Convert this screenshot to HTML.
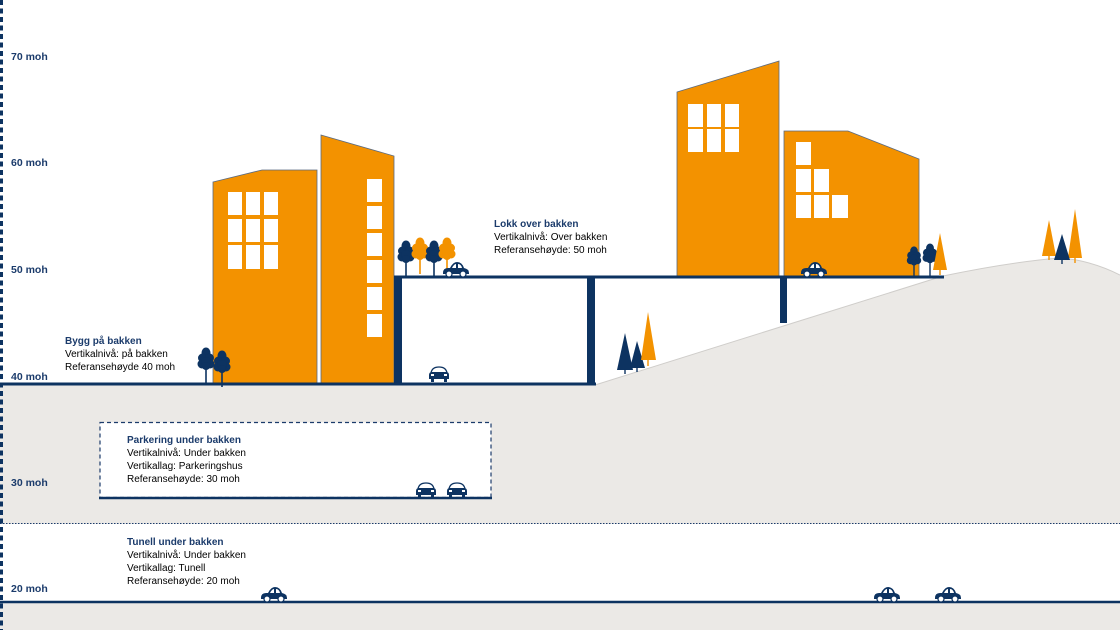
<!DOCTYPE html>
<html><head><meta charset="utf-8"><style>
html,body{margin:0;padding:0;background:#fff}
svg{display:block}
text{font-family:"Liberation Sans",sans-serif;font-size:10px;fill:#000}
.b{font-weight:bold;fill:#1b3b6b}
.ax{font-weight:bold;fill:#1b3b6b;font-size:10.5px}
</style></head><body>
<svg width="1120" height="630" viewBox="0 0 1120 630" xmlns="http://www.w3.org/2000/svg">
<defs>
<g id="carS">
 <path d="M0,11 Q0,6 5,6 L7,6 Q10,0 14,0 Q19,0 21,6 Q26,7 26,11 L26,12 L0,12 Z" fill="#0d3361"/>
 <path d="M9,6 Q11,2 13,2 L13,6 Z M15,2 Q18,2 19,6 L15,6 Z" fill="#fff"/>
 <circle cx="6" cy="12" r="3" fill="#fff" stroke="#0d3361" stroke-width="1.2"/>
 <circle cx="20" cy="12" r="3" fill="#fff" stroke="#0d3361" stroke-width="1.2"/>
</g>
<g id="carF">
 <path d="M2,6 Q3,0 10,0 Q17,0 18,6 Z" fill="#fff" stroke="#0d3361" stroke-width="1.3"/>
 <path d="M0,8 Q0,5 3,5 L17,5 Q20,5 20,8 L20,12 L0,12 Z" fill="#0d3361"/>
 <rect x="2" y="11" width="3" height="4" fill="#0d3361"/>
 <rect x="15" y="11" width="3" height="4" fill="#0d3361"/>
 <rect x="2" y="7" width="3" height="2" fill="#fff"/>
 <rect x="15" y="7" width="3" height="2" fill="#fff"/>
</g>
<g id="tree">
 <rect x="-0.8" y="12" width="1.6" height="25"/>
 <ellipse cx="0" cy="6" rx="4.5" ry="5.5"/>
 <circle cx="-3.5" cy="11" r="4.5"/><circle cx="3.5" cy="11" r="4.5"/>
 <circle cx="-4" cy="17" r="4.5"/><circle cx="4" cy="17" r="4.5"/>
 <circle cx="0" cy="15" r="5"/><circle cx="0" cy="19" r="4"/>
</g>
</defs>

<rect x="0" y="385" width="1120" height="139" fill="#ebe9e6"/>
<rect x="0" y="602" width="1120" height="28" fill="#ebe9e6"/>
<line x1="0" y1="523.5" x2="1120" y2="523.5" stroke="#1b3b6b" stroke-width="1" stroke-dasharray="1.5,1.5"/>
<path d="M595,385 L943,276 Q1010,262 1060,258 Q1090,260 1120,275 L1120,386 Z" fill="#ebe9e6"/>
<path d="M595,385 L943,276 Q1010,262 1060,258 Q1090,260 1120,275" fill="none" stroke="#cfcdca" stroke-width="1"/>

<rect x="100" y="422.5" width="391" height="75" fill="#fff" stroke="#1b3b6b" stroke-width="1.2" stroke-dasharray="4,3"/>
<line x1="99" y1="498" x2="492" y2="498" stroke="#0d3361" stroke-width="2.5"/>

<line x1="0" y1="602" x2="1120" y2="602" stroke="#0d3361" stroke-width="2.5"/>

<path d="M213,182 L262,170 L317,170 L317,384 L213,384 Z" fill="#f39200" stroke="#5a6a80" stroke-width="0.8"/>
<path d="M321,135 L394,156 L394,384 L321,384 Z" fill="#f39200" stroke="#5a6a80" stroke-width="0.8"/>
<g fill="#fff">
 <rect x="228" y="192" width="14" height="23"/><rect x="246" y="192" width="14" height="23"/><rect x="264" y="192" width="14" height="23"/>
 <rect x="228" y="219" width="14" height="23"/><rect x="246" y="219" width="14" height="23"/><rect x="264" y="219" width="14" height="23"/>
 <rect x="228" y="245" width="14" height="24"/><rect x="246" y="245" width="14" height="24"/><rect x="264" y="245" width="14" height="24"/>
 <rect x="367" y="179" width="15" height="23"/><rect x="367" y="206" width="15" height="23"/><rect x="367" y="233" width="15" height="23"/>
 <rect x="367" y="260" width="15" height="23"/><rect x="367" y="287" width="15" height="23"/><rect x="367" y="314" width="15" height="23"/>
</g>

<path d="M677,92 L779,61 L779,277 L677,277 Z" fill="#f39200" stroke="#5a6a80" stroke-width="0.8"/>
<path d="M784,131 L848,131 L919,159 L919,277 L784,277 Z" fill="#f39200" stroke="#5a6a80" stroke-width="0.8"/>
<g fill="#fff">
 <rect x="688" y="104" width="15" height="23"/><rect x="707" y="104" width="14" height="23"/><rect x="725" y="104" width="14" height="23"/>
 <rect x="688" y="129" width="15" height="23"/><rect x="707" y="129" width="14" height="23"/><rect x="725" y="129" width="14" height="23"/>
 <rect x="796" y="142" width="15" height="23"/>
 <rect x="796" y="169" width="15" height="23"/><rect x="814" y="169" width="15" height="23"/>
 <rect x="796" y="195" width="15" height="23"/><rect x="814" y="195" width="15" height="23"/><rect x="832" y="195" width="16" height="23"/>
</g>

<line x1="0" y1="384" x2="596" y2="384" stroke="#0d3361" stroke-width="3"/>
<line x1="394" y1="277" x2="944" y2="277" stroke="#0d3361" stroke-width="3"/>
<rect x="394" y="277" width="8" height="107" fill="#0d3361"/>
<rect x="587" y="277" width="8" height="107" fill="#0d3361"/>
<rect x="780" y="277" width="7" height="46" fill="#0d3361"/>

<use href="#tree" x="406" y="240" fill="#0d3361"/>
<use href="#tree" x="420" y="237" fill="#f39200"/>
<use href="#tree" x="434" y="240" fill="#0d3361"/>
<use href="#tree" x="447" y="237" fill="#f39200"/>
<use href="#tree" x="206" y="347" fill="#0d3361"/>
<use href="#tree" x="222" y="350" fill="#0d3361"/>
<use href="#tree" x="914" y="246" transform="translate(914,246) scale(0.85) translate(-914,-246)" fill="#0d3361"/>
<use href="#tree" x="930" y="243" transform="translate(930,243) scale(0.88) translate(-930,-243)" fill="#0d3361"/>

<g>
 <path d="M625,333 L633,370 L617,370 Z" fill="#0d3361"/><rect x="624.3" y="369" width="1.4" height="5" fill="#0d3361"/>
 <path d="M637,341 L645,368 L630,368 Z" fill="#0d3361"/><rect x="636.3" y="367" width="1.4" height="5" fill="#0d3361"/>
 <path d="M648,312 L656,360 L641,360 Z" fill="#f39200"/><rect x="647.3" y="359" width="1.4" height="7" fill="#f39200"/>
 <path d="M940,233 L947,270 L933,270 Z" fill="#f39200"/><rect x="939.3" y="269" width="1.4" height="6" fill="#f39200"/>
 <path d="M1049,220 L1056,256 L1042,256 Z" fill="#f39200"/><rect x="1048.3" y="255" width="1.4" height="5" fill="#f39200"/>
 <path d="M1075,209 L1082,258 L1068,258 Z" fill="#f39200"/><rect x="1074.3" y="257" width="1.4" height="6" fill="#f39200"/>
 <path d="M1062,234 L1070,260 L1054,260 Z" fill="#0d3361"/><rect x="1061.3" y="259" width="1.4" height="5" fill="#0d3361"/>
</g>

<use href="#carS" x="443" y="262"/>
<use href="#carS" x="801" y="262"/>
<use href="#carS" x="261" y="587"/>
<use href="#carS" x="874" y="587"/>
<use href="#carS" x="935" y="587"/>
<use href="#carF" x="429" y="367"/>
<use href="#carF" x="416" y="483"/>
<use href="#carF" x="447" y="483"/>

<line x1="1.5" y1="0" x2="1.5" y2="630" stroke="#0d3361" stroke-width="3" stroke-dasharray="5,3.5"/>
<text class="ax" x="11" y="60">70 moh</text>
<text class="ax" x="11" y="166">60 moh</text>
<text class="ax" x="11" y="273">50 moh</text>
<text class="ax" x="11" y="380">40 moh</text>
<text class="ax" x="11" y="486">30 moh</text>
<text class="ax" x="11" y="592">20 moh</text>

<text class="b" x="65" y="344">Bygg på bakken</text>
<text x="65" y="357">Vertikalnivå: på bakken</text>
<text x="65" y="370">Referansehøyde 40 moh</text>

<text class="b" x="494" y="227">Lokk over bakken</text>
<text x="494" y="240">Vertikalnivå: Over bakken</text>
<text x="494" y="253">Referansehøyde: 50 moh</text>

<text class="b" x="127" y="443">Parkering under bakken</text>
<text x="127" y="456">Vertikalnivå: Under bakken</text>
<text x="127" y="469">Vertikallag: Parkeringshus</text>
<text x="127" y="482">Referansehøyde: 30 moh</text>

<text class="b" x="127" y="545">Tunell under bakken</text>
<text x="127" y="558">Vertikalnivå: Under bakken</text>
<text x="127" y="571">Vertikallag: Tunell</text>
<text x="127" y="584">Referansehøyde: 20 moh</text>
</svg>
</body></html>
